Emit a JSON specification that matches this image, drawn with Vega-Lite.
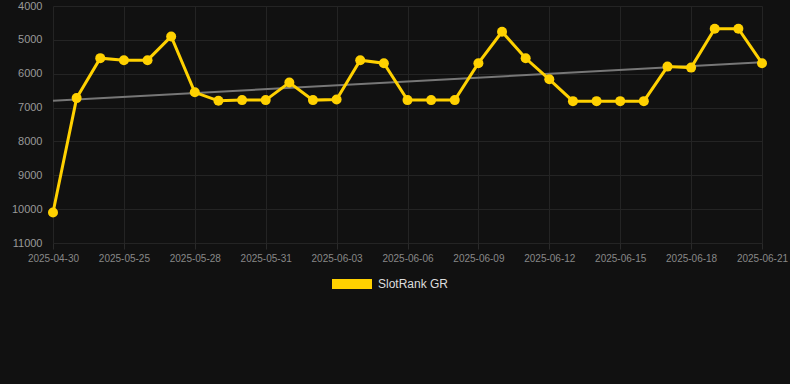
{
  "$schema": "https://vega.github.io/schema/vega-lite/v6.json",
  "width": 742,
  "height": 237,
  "autosize": {"type": "none"},
  "padding": {"left": 43, "top": 6, "right": 5, "bottom": 141},
  "background": "#111111",
  "config": {
    "view": {"stroke": null},
    "font": "Liberation Sans",
    "axis": {"domain": false, "gridColor": "#242424", "gridWidth": 1}
  },
  "datasets": {
    "rank": [
      {"date": "2025-04-30", "rank": 10100, "series": "SlotRank GR"},
      {"date": "2025-05-23", "rank": 6720, "series": "SlotRank GR"},
      {"date": "2025-05-24", "rank": 5540, "series": "SlotRank GR"},
      {"date": "2025-05-25", "rank": 5600, "series": "SlotRank GR"},
      {"date": "2025-05-26", "rank": 5600, "series": "SlotRank GR"},
      {"date": "2025-05-27", "rank": 4900, "series": "SlotRank GR"},
      {"date": "2025-05-28", "rank": 6550, "series": "SlotRank GR"},
      {"date": "2025-05-29", "rank": 6800, "series": "SlotRank GR"},
      {"date": "2025-05-30", "rank": 6780, "series": "SlotRank GR"},
      {"date": "2025-05-31", "rank": 6780, "series": "SlotRank GR"},
      {"date": "2025-06-01", "rank": 6260, "series": "SlotRank GR"},
      {"date": "2025-06-02", "rank": 6780, "series": "SlotRank GR"},
      {"date": "2025-06-03", "rank": 6760, "series": "SlotRank GR"},
      {"date": "2025-06-04", "rank": 5600, "series": "SlotRank GR"},
      {"date": "2025-06-05", "rank": 5690, "series": "SlotRank GR"},
      {"date": "2025-06-06", "rank": 6780, "series": "SlotRank GR"},
      {"date": "2025-06-07", "rank": 6780, "series": "SlotRank GR"},
      {"date": "2025-06-08", "rank": 6780, "series": "SlotRank GR"},
      {"date": "2025-06-09", "rank": 5690, "series": "SlotRank GR"},
      {"date": "2025-06-10", "rank": 4760, "series": "SlotRank GR"},
      {"date": "2025-06-11", "rank": 5545, "series": "SlotRank GR"},
      {"date": "2025-06-12", "rank": 6165, "series": "SlotRank GR"},
      {"date": "2025-06-13", "rank": 6810, "series": "SlotRank GR"},
      {"date": "2025-06-14", "rank": 6810, "series": "SlotRank GR"},
      {"date": "2025-06-15", "rank": 6810, "series": "SlotRank GR"},
      {"date": "2025-06-16", "rank": 6810, "series": "SlotRank GR"},
      {"date": "2025-06-17", "rank": 5790, "series": "SlotRank GR"},
      {"date": "2025-06-18", "rank": 5820, "series": "SlotRank GR"},
      {"date": "2025-06-19", "rank": 4670, "series": "SlotRank GR"},
      {"date": "2025-06-20", "rank": 4670, "series": "SlotRank GR"},
      {"date": "2025-06-21", "rank": 5690, "series": "SlotRank GR"}
    ],
    "trend": [
      {"date": "2025-04-30", "rank": 6796},
      {"date": "2025-06-21", "rank": 5663}
    ]
  },
  "encoding": {
    "x": {
      "field": "date",
      "type": "ordinal",
      "scale": {"type": "point", "range": [10, 719], "padding": 0},
      "axis": {
        "title": null,
        "values": ["2025-04-30", "2025-05-25", "2025-05-28", "2025-05-31", "2025-06-03", "2025-06-06", "2025-06-09", "2025-06-12", "2025-06-15", "2025-06-18", "2025-06-21"],
        "labelAngle": 0,
        "labelFontSize": 10,
        "labelColor": "#888888",
        "labelPadding": 4,
        "tickColor": "#2a2a2a",
        "tickSize": 6,
        "grid": true
      }
    },
    "y": {
      "field": "rank",
      "type": "quantitative",
      "scale": {"domain": [4000, 11000], "reverse": true, "nice": false, "zero": false},
      "axis": {
        "title": null,
        "values": [4000, 5000, 6000, 7000, 8000, 9000, 10000, 11000],
        "format": "d",
        "labelFontSize": 11,
        "labelColor": "#999999",
        "ticks": false,
        "labelPadding": 1,
        "grid": true
      }
    }
  },
  "layer": [
    {
      "data": {"name": "trend"},
      "mark": {"type": "line", "color": "#777777", "strokeWidth": 2}
    },
    {
      "data": {"name": "rank"},
      "mark": {"type": "line", "strokeWidth": 3},
      "encoding": {
        "color": {
          "field": "series",
          "type": "nominal",
          "scale": {"range": ["#FFD100"]},
          "legend": {
            "title": null,
            "orient": "none",
            "legendX": 289,
            "legendY": 258,
            "padding": 0,
            "symbolType": "M-1,-0.25L1,-0.25L1,0.25L-1,0.25Z",
            "symbolSize": 1600,
            "symbolFillColor": "#FFD100",
            "symbolStrokeWidth": 0,
            "symbolOpacity": 1,
            "labelFontSize": 12,
            "labelColor": "#dddddd",
            "labelOffset": 6
          }
        }
      }
    },
    {
      "data": {"name": "rank"},
      "mark": {"type": "point", "filled": true, "size": 100, "color": "#FFD100", "opacity": 1}
    }
  ]
}
